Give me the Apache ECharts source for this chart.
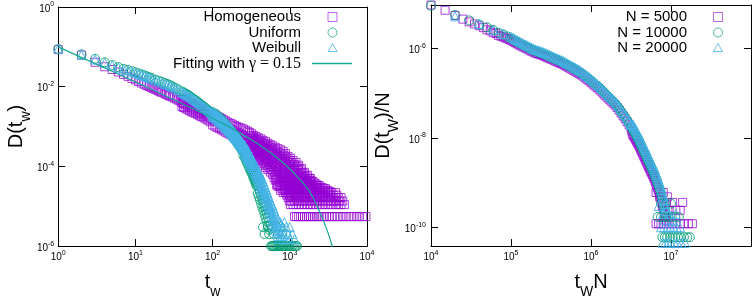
<!DOCTYPE html>
<html><head><meta charset="utf-8">
<script src="https://cdn.jsdelivr.net/npm/echarts@6/dist/echarts.min.js"></script>
<style>html,body{margin:0;padding:0;background:#fff}#c{width:754px;height:304px}</style>
</head><body><div id="c"></div><script>
// ================= LEFT PANEL: t_w vs D(t_w) =================
const homogeneousEarly = [[1,0.085],[2,0.062],[3,0.041],[4,0.0316],[5,0.027],[6,0.0234],[7,0.0204],[8,0.0182],[9,0.0162],[10,0.0148],[11,0.0135],[12,0.0123],[13,0.0115],[14,0.0107],[15,0.0101],[16,0.0095],[17,0.0091],[18,0.0087],[19,0.0083],[20,0.0079],[21,0.0075],[22,0.0072],[24,0.0068],[25,0.0064],[27,0.006],[28,0.0058],[30,0.0055],[32,0.0052],[34,0.0049],[36,0.0046],[38,0.0044]];
// band columns: [t, D values read across the band ...]
const homogeneousBand = [
[40,5.0e-3,4.0e-3,3.2e-3],[42,4.8e-3,3.8e-3,3.0e-3],[44,4.6e-3,3.6e-3,2.9e-3],[47,4.3e-3,3.4e-3,2.7e-3],[50,4.0e-3,3.2e-3,2.5e-3],[53,3.8e-3,3.0e-3,2.4e-3],[56,3.55e-3,2.8e-3,2.24e-3],[60,3.4e-3,2.7e-3,2.14e-3],[64,3.2e-3,2.5e-3,2.0e-3],[68,2.95e-3,2.34e-3,1.86e-3],[72,2.8e-3,2.24e-3,1.78e-3],[77,2.6e-3,2.1e-3,1.66e-3],[82,2.45e-3,1.95e-3,1.55e-3],[87,2.3e-3,1.82e-3,1.45e-3],[93,2.1e-3,1.66e-3,1.32e-3],
[100,2.05e-3,1.51e-3,1.1e-3],[107,1.95e-3,1.41e-3,1.02e-3],[114,1.82e-3,1.32e-3,9.5e-4],[122,1.7e-3,1.23e-3,8.9e-4],[130,1.58e-3,1.15e-3,8.3e-4],[139,1.48e-3,1.07e-3,7.8e-4],[148,1.38e-3,1.0e-3,7.2e-4],[158,1.29e-3,9.3e-4,6.8e-4],[169,1.2e-3,8.7e-4,6.3e-4],[180,1.15e-3,8.3e-4,6.0e-4],[192,1.07e-3,7.8e-4,5.6e-4],[205,1.0e-3,7.2e-4,5.2e-4],[219,9.5e-4,6.8e-4,4.8e-4],[234,9.1e-4,6.3e-4,4.4e-4],[250,8.7e-4,5.9e-4,4.0e-4],[267,8.1e-4,5.4e-4,3.5e-4],[285,7.6e-4,5.0e-4,3.2e-4],
[300,7.1e-4,5.2e-4,4.0e-4,3.0e-4,2.2e-4],[320,6.6e-4,4.9e-4,3.7e-4,2.7e-4,1.9e-4],[340,6.0e-4,4.5e-4,3.4e-4,2.5e-4,1.66e-4],[365,5.6e-4,4.2e-4,3.1e-4,2.2e-4,1.48e-4],[390,5.2e-4,3.9e-4,2.8e-4,2.0e-4,1.35e-4],[420,4.9e-4,3.6e-4,2.6e-4,1.8e-4,1.17e-4],[450,4.5e-4,3.3e-4,2.4e-4,1.6e-4,1.07e-4],[485,4.2e-4,3.0e-4,2.1e-4,1.4e-4,9.3e-5],[520,3.8e-4,2.8e-4,1.9e-4,1.25e-4,8.3e-5],[560,3.5e-4,2.5e-4,1.7e-4,1.1e-4,7.2e-5],[600,3.3e-4,2.3e-4,1.55e-4,1.0e-4,6.3e-5],
[650,3.0e-4,2.1e-4,1.4e-4,9e-5,6e-5,4.5e-5],[700,2.8e-4,1.9e-4,1.25e-4,8e-5,5.3e-5,3.6e-5,3.2e-5],[760,2.6e-4,1.75e-4,1.15e-4,7.2e-5,4.8e-5,3.3e-5,2.5e-5],[820,2.4e-4,1.6e-4,1.05e-4,6.6e-5,4.4e-5,3.3e-5,2.2e-5],[880,2.1e-4,1.45e-4,9.5e-5,6e-5,4e-5,2.75e-5,2.2e-5],[950,1.78e-4,1.25e-4,8.5e-5,5.6e-5,3.8e-5,2.75e-5,2.2e-5,1.65e-5],
[1020,1.6e-4,1.1e-4,7.5e-5,5e-5,3.5e-5,2.75e-5,2.2e-5,1.65e-5,1.1e-5],[1100,1.41e-4,1.0e-4,6.8e-5,4.6e-5,3.3e-5,2.75e-5,2.2e-5,1.65e-5,1.1e-5],[1200,1.26e-4,9e-5,6.2e-5,4.2e-5,3.3e-5,2.75e-5,2.2e-5,1.65e-5,1.1e-5],[1300,1.07e-4,7.8e-5,5.5e-5,3.9e-5,3.3e-5,2.75e-5,2.2e-5,1.65e-5,1.1e-5],[1420,8.9e-5,6.6e-5,5e-5,3.9e-5,3.3e-5,2.75e-5,2.2e-5,1.65e-5,1.1e-5],
[1550,7.1e-5,5.5e-5,4.4e-5,3.3e-5,2.75e-5,2.2e-5,1.65e-5,1.1e-5],[1700,6e-5,4.9e-5,3.9e-5,3.3e-5,2.75e-5,2.2e-5,1.65e-5,1.1e-5],[1850,5e-5,4.4e-5,3.3e-5,2.75e-5,2.2e-5,1.65e-5,1.1e-5],[2000,4.2e-5,3.3e-5,2.75e-5,2.2e-5,1.65e-5,1.1e-5],[2200,3.6e-5,3.3e-5,2.75e-5,2.2e-5,1.65e-5,1.1e-5],[2400,3.3e-5,2.75e-5,2.2e-5,1.65e-5,1.1e-5],[2650,2.9e-5,2.2e-5,1.65e-5,1.1e-5],[2900,2.75e-5,2.2e-5,1.65e-5,1.1e-5],[3200,2.4e-5,2.2e-5,1.65e-5,1.1e-5],[3500,2.2e-5,1.65e-5,1.1e-5],[3900,2.2e-5,1.65e-5,1.1e-5],[4250,1.65e-5,1.1e-5],[4600,1.65e-5,1.1e-5],[5100,1.1e-5]
];
// in-between columns of the dense cloud
const homogeneousCloud = [
[310,5.9e-4,4.4e-4,3.3e-4,2.4e-4],[330,5.45e-4,4.1e-4,3.05e-4,2.15e-4],[352,5.0e-4,3.75e-4,2.75e-4,1.92e-4],[377,4.7e-4,3.45e-4,2.5e-4,1.72e-4],[405,4.35e-4,3.2e-4,2.25e-4,1.55e-4],[435,4.0e-4,2.95e-4,2.05e-4,1.38e-4],[467,3.7e-4,2.65e-4,1.85e-4,1.22e-4],[502,3.4e-4,2.4e-4,1.62e-4,1.08e-4],[540,3.1e-4,2.2e-4,1.45e-4,9.5e-5],[580,2.85e-4,1.97e-4,1.3e-4,8.4e-5],
[625,2.63e-4,1.8e-4,1.18e-4,7.6e-5,5.2e-5],[675,2.4e-4,1.62e-4,1.06e-4,6.9e-5,4.7e-5,3.4e-5],[730,2.2e-4,1.48e-4,9.5e-5,6.2e-5,4.1e-5,3.1e-5],[790,2.05e-4,1.36e-4,8.7e-5,5.6e-5,3.9e-5,2.75e-5],[850,1.85e-4,1.23e-4,7.9e-5,5.1e-5,3.5e-5,2.5e-5],[915,1.62e-4,1.1e-4,7.2e-5,4.8e-5,3.3e-5,2.5e-5,1.9e-5],
[985,1.4e-4,9.7e-5,6.5e-5,4.4e-5,3.1e-5,2.5e-5,1.9e-5,1.35e-5],[1060,1.25e-4,8.6e-5,5.8e-5,4.0e-5,3.05e-5,2.45e-5,1.9e-5,1.35e-5],[1150,1.12e-4,7.9e-5,5.3e-5,3.8e-5,3.0e-5,2.45e-5,1.9e-5,1.35e-5],[1250,9.9e-5,7.0e-5,4.8e-5,3.6e-5,3.0e-5,2.45e-5,1.9e-5,1.35e-5],[1360,8.4e-5,6.1e-5,4.5e-5,3.6e-5,3.0e-5,2.45e-5,1.9e-5,1.35e-5],
[1480,6.9e-5,5.3e-5,4.1e-5,3.3e-5,2.45e-5,1.9e-5,1.35e-5],[1620,5.8e-5,4.6e-5,3.7e-5,3.0e-5,2.45e-5,1.9e-5,1.35e-5],[1780,5.0e-5,4.1e-5,3.4e-5,2.45e-5,1.9e-5,1.35e-5],[1920,4.2e-5,3.5e-5,3.0e-5,2.45e-5,1.9e-5,1.35e-5],[2100,3.8e-5,3.0e-5,2.45e-5,1.9e-5,1.35e-5],[2300,3.3e-5,2.9e-5,2.45e-5,1.9e-5,1.35e-5],[2520,3.0e-5,2.45e-5,1.9e-5,1.35e-5],[2770,2.8e-5,2.45e-5,1.9e-5,1.35e-5],[3050,2.5e-5,1.9e-5,1.35e-5],[3350,2.3e-5,1.9e-5,1.35e-5],[3700,1.9e-5,1.35e-5],[4050,1.9e-5,1.35e-5],[4420,1.35e-5],[4850,1.35e-5]
];
const homogeneousFloor = [[1150,5.5e-6],[1220,5.5e-6],[1300,5.5e-6],[1380,5.5e-6],[1460,5.5e-6],[1550,5.5e-6],[1650,5.5e-6],[1750,5.5e-6],[1860,5.5e-6],[1980,5.5e-6],[2100,5.5e-6],[2250,5.5e-6],[2400,5.5e-6],[2600,5.5e-6],[2800,5.5e-6],[3000,5.5e-6],[3250,5.5e-6],[3500,5.5e-6],[3800,5.5e-6],[4100,5.5e-6],[4500,5.5e-6],[4900,5.5e-6],[5400,5.5e-6],[6000,5.5e-6],[6600,5.5e-6],[7300,5.5e-6],[8000,5.5e-6],[8800,5.5e-6],[9700,5.5e-6]];

const uniformEarly = [[1,0.088],[2,0.065],[3,0.05],[4,0.041],[5,0.035],[6,0.031],[7,0.028],[8,0.0263],[9,0.0245],[10,0.0229],[11,0.0216],[12,0.0204],[13,0.0193],[14,0.0182],[15,0.0174],[16,0.0166],[18,0.0151],[20,0.0141],[22,0.0132],[24,0.0123],[26,0.0117],[28,0.011],[30,0.0102],[33,0.0093],[36,0.0085],[40,0.0076],[42,0.0072],[44,0.0068],[46,0.0065],[48,0.0062],[50,0.0059],[53,0.0054],[55,0.0051],[58,0.0048],[61,0.0045],[64,0.0042],[67,0.0039],[70,0.0036],[73,0.0034],[77,0.0032],[81,0.0029],[85,0.0027],[89,0.0025],[93,0.00234],[96,0.0022]];
const uniformBand = [
[100,2.3e-3,2.04e-3,1.8e-3],[110,2.1e-3,1.86e-3,1.66e-3],[120,1.78e-3,1.58e-3,1.41e-3],[130,1.55e-3,1.38e-3,1.23e-3],[140,1.32e-3,1.17e-3,1.05e-3],[150,1.12e-3,1.0e-3,8.9e-4],[160,9.8e-4,8.7e-4,7.8e-4],[170,8.3e-4,7.4e-4,6.6e-4],[180,7.2e-4,6.5e-4,5.8e-4],[190,6.3e-4,5.6e-4,5.0e-4],[200,5.5e-4,4.9e-4,4.4e-4],[210,4.8e-4,4.3e-4,3.8e-4],[220,4.2e-4,3.7e-4,3.3e-4],[230,3.6e-4,3.2e-4,2.9e-4],[240,3.2e-4,2.8e-4,2.5e-4],
[250,3.0e-4,2.4e-4,1.9e-4],[260,2.6e-4,2.1e-4,1.66e-4],[270,2.24e-4,1.78e-4,1.41e-4],[280,1.9e-4,1.51e-4,1.2e-4],[290,1.66e-4,1.32e-4,1.05e-4],[300,1.41e-4,1.12e-4,8.9e-5],[310,1.23e-4,9.8e-5,7.8e-5],[320,1.07e-4,8.5e-5,6.8e-5],[330,9.3e-5,7.4e-5,5.9e-5],[340,7.9e-5,6.3e-5,5.0e-5],[350,6.9e-5,5.5e-5,4.4e-5],[360,5.9e-5,4.7e-5,3.7e-5],[372,5.0e-5,4.0e-5,3.2e-5],
[385,5.2e-5,3.3e-5,2.1e-5],[397,4.4e-5,2.75e-5,1.74e-5],[410,3.6e-5,2.3e-5,1.45e-5],[425,2.95e-5,1.86e-5,1.17e-5],[440,2.4e-5,1.51e-5,9.5e-6],[455,1.95e-5,1.23e-5,7.8e-6],[470,1.58e-5,1.0e-5,6.3e-6],[485,1.29e-5,8.1e-6,5.1e-6],[500,1.05e-5,6.6e-6,4.2e-6],[520,8.3e-6,5.2e-6,3.3e-6],[540,6.6e-6,4.2e-6,2.6e-6],[560,3.5e-6],[580,2.8e-6]
];
const uniformFloor = [[450,3e-6],[520,3e-6],[600,3e-6],[680,3e-6],[760,3e-6],[470,2e-6],[540,2e-6],[620,2e-6],[700,2e-6],[800,2e-6],[900,2e-6],
[570,1e-6],[590,1e-6],[610,1e-6],[630,1e-6],[650,1e-6],[675,1e-6],[700,1e-6],[725,1e-6],[750,1e-6],[780,1e-6],[810,1e-6],[840,1e-6],[870,1e-6],[900,1e-6],[940,1e-6],[980,1e-6],[1020,1e-6],[1060,1e-6],[1100,1e-6],[1150,1e-6],[1200,1e-6],[1240,1e-6]];

const weibullEarly = [[1,0.09],[2,0.063],[3,0.048],[4,0.04],[5,0.034],[6,0.03],[7,0.027],[8,0.0255],[9,0.0237],[10,0.0222],[11,0.021],[12,0.0197],[13,0.0187],[14,0.0176],[15,0.0168],[16,0.016],[18,0.0146],[20,0.0136],[22,0.0127],[24,0.0119],[26,0.0113],[28,0.0106],[30,0.0099],[33,0.009],[36,0.0082],[40,0.0074],[42,0.007],[44,0.0066],[46,0.0063],[48,0.006],[50,0.0057],[53,0.0053],[55,0.005],[58,0.0047],[61,0.0044],[64,0.0041],[67,0.0038],[70,0.0036],[73,0.0034],[77,0.0031],[81,0.0029],[85,0.0027],[89,0.0025],[93,0.00232],[96,0.0022]];
const weibullBand = [
[100,2.35e-3,2.04e-3,1.78e-3],[105,2.24e-3,1.95e-3,1.7e-3],[110,2.09e-3,1.82e-3,1.58e-3],[115,1.95e-3,1.7e-3,1.48e-3],[120,1.82e-3,1.58e-3,1.38e-3],[125,1.7e-3,1.48e-3,1.29e-3],[130,1.58e-3,1.38e-3,1.2e-3],[135,1.48e-3,1.29e-3,1.12e-3],[140,1.38e-3,1.2e-3,1.05e-3],[145,1.29e-3,1.12e-3,9.8e-4],[150,1.2e-3,1.05e-3,9.1e-4],[155,1.15e-3,1.0e-3,8.7e-4],[160,1.07e-3,9.3e-4,8.1e-4],[165,1.0e-3,8.7e-4,7.6e-4],[170,9.3e-4,8.1e-4,7.1e-4],[175,8.9e-4,7.8e-4,6.8e-4],[180,8.3e-4,7.2e-4,6.3e-4],[185,7.8e-4,6.8e-4,5.9e-4],[190,7.2e-4,6.3e-4,5.5e-4],[195,6.9e-4,6.0e-4,5.2e-4],[200,6.5e-4,5.6e-4,4.9e-4],[207,5.9e-4,5.1e-4,4.5e-4],[215,5.4e-4,4.7e-4,4.1e-4],[222,4.9e-4,4.3e-4,3.7e-4],[230,4.5e-4,3.9e-4,3.4e-4],[237,4.1e-4,3.5e-4,3.1e-4],[245,3.7e-4,3.2e-4,2.8e-4],[252,3.4e-4,2.95e-4,2.6e-4],
[260,3.4e-4,2.7e-4,2.1e-4],[267,3.1e-4,2.45e-4,1.95e-4],[275,2.8e-4,2.24e-4,1.78e-4],[282,2.6e-4,2.04e-4,1.62e-4],[290,2.34e-4,1.86e-4,1.48e-4],[297,2.14e-4,1.7e-4,1.35e-4],[305,1.95e-4,1.55e-4,1.23e-4],[312,1.78e-4,1.41e-4,1.12e-4],[320,1.62e-4,1.29e-4,1.02e-4],[330,1.45e-4,1.15e-4,9.1e-5],[340,1.29e-4,1.02e-4,8.1e-5],[350,1.15e-4,9.1e-5,7.2e-5],[360,1.02e-4,8.1e-5,6.5e-5],[370,9.1e-5,7.2e-5,5.8e-5],[380,8.1e-5,6.5e-5,5.1e-5],[390,7.2e-5,5.8e-5,4.6e-5],
[400,7.2e-5,5.1e-5,3.6e-5],[412,6.3e-5,4.5e-5,3.2e-5],[425,5.5e-5,3.9e-5,2.75e-5],[437,4.8e-5,3.4e-5,2.4e-5],[450,4.2e-5,3.0e-5,2.1e-5],[465,3.5e-5,2.5e-5,1.78e-5],[480,3.0e-5,2.1e-5,1.5e-5],[495,2.6e-5,1.8e-5,1.3e-5],[510,2.2e-5,1.55e-5,1.1e-5],[525,1.85e-5,1.3e-5,9.3e-6],[540,1.6e-5,1.12e-5,8e-6],[557,1.35e-5,9.5e-6,6.7e-6],[575,1.12e-5,7.9e-6,5.6e-6],
[592,1.07e-5,6.8e-6,4.3e-6],[610,8.9e-6,5.6e-6,3.5e-6],[630,7.6e-6,4.8e-6,3e-6],[650,6.3e-6,4.0e-6,2.5e-6],[675,5.4e-6,3.4e-6,2.1e-6],[700,4.5e-6,2.8e-6,1.8e-6],[730,3.8e-6,2.4e-6,1.5e-6],[760,2e-6],[800,1.8e-6],[830,1.5e-6]
];
const weibullFloor = [[750,4e-6],[850,4e-6],[800,3e-6],[900,3e-6],[1000,3e-6],[820,2e-6],[950,2e-6],[1080,2e-6],[900,1.5e-6],[1000,1.5e-6],[1150,1.5e-6]];

const fitT = [1,3,10,30,55,100,135,200,320,410,600,870,1200,1660,2000,2450,3000,3550,3750];
const fitD = [0.1,0.038,0.0132,0.0049,0.00282,0.00162,0.0012,0.00079,0.00046,0.00034,0.0002,0.000112,0.00006,0.0000295,0.0000166,0.0000071,0.0000027,0.000001,0.0000007];

// ================= RIGHT PANEL: t_w N vs D(t_w)/N =================
const n5000Early = [[1e4,9.3e-6],[1.5e4,7.1e-6],[2e4,5.4e-6],[2.5e4,4.5e-6],[3e4,3.9e-6],[3.5e4,3.5e-6],[4e4,3.2e-6],[4.5e4,2.9e-6],[5e4,2.6e-6],[5.5e4,2.45e-6],[6e4,2.24e-6],[6.5e4,2.14e-6],[7e4,1.95e-6],[7.5e4,1.86e-6],[8e4,1.8e-6],[8.5e4,1.72e-6],[9e4,1.65e-6],[9.5e4,1.58e-6]];
const n10000Early = [[1e4,9e-6],[2e4,5.6e-6],[3e4,4.2e-6],[4e4,3.4e-6],[5e4,2.95e-6],[6e4,2.57e-6],[7e4,2.24e-6],[8e4,2.04e-6],[9e4,1.85e-6]];
const n20000Early = [[2e4,5.2e-6],[4e4,3.5e-6],[6e4,2.6e-6],[8e4,2.1e-6]];
const bandX = [1e5,1.12e5,1.26e5,1.41e5,1.58e5,1.78e5,2e5,2.24e5,2.51e5,2.82e5,3.16e5,3.55e5,3.98e5,4.47e5,5.01e5,5.62e5,6.31e5,7.08e5,7.94e5,8.91e5,1e6,1.12e6,1.26e6,1.41e6,1.58e6,1.78e6,2e6,2.24e6,2.51e6,2.82e6,3.16e6,3.31e6,3.47e6,3.63e6,3.8e6,3.98e6,4.17e6,4.37e6,4.57e6,4.79e6,5.01e6,5.25e6,5.5e6,5.75e6,6.03e6,6.31e6,6.61e6,6.92e6,7.24e6,7.59e6,7.94e6,8.32e6,8.71e6];
const band5000 = [1.51e-6,1.35e-6,1.2e-6,1.08e-6,9.8e-7,8.7e-7,7.9e-7,7.4e-7,6.9e-7,6.3e-7,5.75e-7,5.25e-7,4.8e-7,4.4e-7,3.9e-7,3.47e-7,3.09e-7,2.75e-7,2.4e-7,2.04e-7,1.74e-7,1.45e-7,1.23e-7,1.0e-7,8.1e-8,6.6e-8,5.4e-8,4.17e-8,3.09e-8,2.29e-8,1.66e-8,1.2e-8,1.05e-8,9.1e-9,7.8e-9,6.8e-9,5.6e-9,4.7e-9,3.9e-9,3.3e-9,2.75e-9,2.29e-9,1.91e-9,1.62e-9,1.35e-9,1.1e-9,8.7e-10,6.9e-10,5.5e-10,4.07e-10,2.88e-10,2.0e-10,1.38e-10];
const band10000 = [1.66e-6,1.48e-6,1.32e-6,1.19e-6,1.07e-6,9.5e-7,8.7e-7,8.1e-7,7.6e-7,6.9e-7,6.3e-7,5.75e-7,5.25e-7,4.8e-7,4.27e-7,3.8e-7,3.39e-7,3.02e-7,2.63e-7,2.24e-7,1.91e-7,1.58e-7,1.35e-7,1.1e-7,8.9e-8,7.2e-8,5.9e-8,4.57e-8,3.39e-8,2.51e-8,1.82e-8,1.55e-8,1.35e-8,1.17e-8,1.0e-8,8.7e-9,7.2e-9,6.0e-9,5.0e-9,4.27e-9,3.55e-9,2.95e-9,2.45e-9,2.09e-9,1.74e-9,1.41e-9,1.12e-9,8.9e-10,7.1e-10,5.25e-10,3.72e-10,2.57e-10,1.78e-10];
const band20000 = [1.82e-6,1.62e-6,1.45e-6,1.3e-6,1.17e-6,1.05e-6,9.5e-7,8.9e-7,8.3e-7,7.6e-7,6.9e-7,6.3e-7,5.75e-7,5.25e-7,4.68e-7,4.17e-7,3.72e-7,3.31e-7,2.88e-7,2.45e-7,2.09e-7,1.74e-7,1.48e-7,1.2e-7,9.8e-8,7.9e-8,6.5e-8,5.0e-8,3.72e-8,2.75e-8,2.0e-8,2.0e-8,1.74e-8,1.51e-8,1.29e-8,1.12e-8,9.3e-9,7.8e-9,6.5e-9,5.5e-9,4.57e-9,3.8e-9,3.16e-9,2.69e-9,2.24e-9,1.82e-9,1.45e-9,1.15e-9,9.1e-10,6.8e-10,4.8e-10,3.3e-10,2.29e-10];
// second, staggered set of x positions along the same dense band
const bandXb = [1.06e5,1.19e5,1.33e5,1.5e5,1.68e5,1.89e5,2.12e5,2.37e5,2.66e5,2.99e5,3.35e5,3.76e5,4.22e5,4.73e5,5.31e5,5.96e5,6.68e5,7.5e5,8.41e5,9.44e5,1.06e6,1.19e6,1.33e6,1.49e6,1.68e6,1.89e6,2.12e6,2.37e6,2.66e6,2.99e6,3.23e6,3.39e6,3.55e6,3.72e6,3.89e6,4.07e6,4.27e6,4.47e6,4.68e6,4.9e6,5.13e6,5.37e6,5.62e6,5.89e6,6.17e6,6.46e6,6.76e6,7.08e6,7.41e6,7.76e6,8.13e6,8.51e6];
const band5000b = [1.43e-6,1.27e-6,1.14e-6,1.03e-6,9.2e-7,8.3e-7,7.65e-7,7.15e-7,6.6e-7,6.0e-7,5.5e-7,5.0e-7,4.6e-7,4.15e-7,3.68e-7,3.27e-7,2.92e-7,2.57e-7,2.21e-7,1.88e-7,1.59e-7,1.34e-7,1.11e-7,9.0e-8,7.3e-8,6.0e-8,4.75e-8,3.59e-8,2.66e-8,1.95e-8,1.41e-8,1.12e-8,9.8e-9,8.4e-9,7.3e-9,6.2e-9,5.1e-9,4.3e-9,3.6e-9,3.0e-9,2.5e-9,2.09e-9,1.76e-9,1.48e-9,1.22e-9,9.8e-10,7.7e-10,6.2e-10,4.7e-10,3.4e-10,2.4e-10,1.66e-10];
const band10000b = [1.57e-6,1.4e-6,1.25e-6,1.13e-6,1.01e-6,9.1e-7,8.4e-7,7.85e-7,7.25e-7,6.6e-7,6.0e-7,5.5e-7,5.0e-7,4.53e-7,4.03e-7,3.59e-7,3.2e-7,2.82e-7,2.43e-7,2.07e-7,1.74e-7,1.46e-7,1.22e-7,9.9e-8,8.0e-8,6.5e-8,5.2e-8,3.94e-8,2.92e-8,2.14e-8,1.68e-8,1.45e-8,1.26e-8,1.08e-8,9.3e-9,7.9e-9,6.6e-9,5.5e-9,4.6e-9,3.9e-9,3.24e-9,2.69e-9,2.26e-9,1.91e-9,1.57e-9,1.26e-9,1.0e-9,7.9e-10,6.1e-10,4.4e-10,3.1e-10,2.14e-10];
const band20000b = [1.72e-6,1.53e-6,1.37e-6,1.23e-6,1.11e-6,1.0e-6,9.2e-7,8.6e-7,7.95e-7,7.25e-7,6.6e-7,6.0e-7,5.5e-7,4.95e-7,4.42e-7,3.94e-7,3.51e-7,3.09e-7,2.66e-7,2.26e-7,1.91e-7,1.6e-7,1.33e-7,1.08e-7,8.8e-8,7.2e-8,5.7e-8,4.31e-8,3.2e-8,2.35e-8,2.0e-8,1.87e-8,1.62e-8,1.4e-8,1.2e-8,1.02e-8,8.5e-9,7.1e-9,6.0e-9,5.0e-9,4.17e-9,3.47e-9,2.92e-9,2.46e-9,2.02e-9,1.62e-9,1.29e-9,1.02e-9,7.9e-10,5.7e-10,4.0e-10,2.75e-10];
const n5000Tail = [[6.5e6,6e-10],[7.2e6,4.8e-10],[8e6,6e-10],[8.8e6,3.6e-10],[9.5e6,2.4e-10],[1.05e7,3.6e-10],[1.15e7,2.4e-10],[1.3e7,2.4e-10],[1.4e7,3.6e-10],[7.8e6,3e-10],[9e6,4.8e-10],
[6.5e6,1.2e-10],[7e6,1.2e-10],[7.5e6,1.2e-10],[8e6,1.2e-10],[8.7e6,1.2e-10],[9.5e6,1.2e-10],[1.05e7,1.2e-10],[1.15e7,1.2e-10],[1.3e7,1.2e-10],[1.45e7,1.2e-10],[1.65e7,1.2e-10],[1.85e7,1.2e-10]];
const n10000Tail = [[7.5e6,3.4e-10],[8.5e6,3.4e-10],[1e7,3.4e-10],
[6.8e6,1.7e-10],[7.5e6,1.7e-10],[8.3e6,1.7e-10],[9.2e6,1.7e-10],[1.02e7,1.7e-10],[1.13e7,1.7e-10],[1.25e7,1.7e-10],
[7.8e6,6e-11],[8.4e6,6e-11],[9e6,6e-11],[9.7e6,6e-11],[1.05e7,6e-11],[1.13e7,6e-11],[1.22e7,6e-11],[1.32e7,6e-11],[1.45e7,6e-11],[1.6e7,6e-11],[1.72e7,6e-11]];
const n20000Tail = [[7e6,3e-10],[8e6,2e-10],[9.5e6,2e-10],[1.05e7,1.4e-10],[1.15e7,2e-10],
[7.5e6,1e-10],[8.2e6,1e-10],[9e6,1e-10],[9.8e6,1e-10],[1.08e7,1e-10],[1.18e7,1e-10],[1.3e7,1e-10],
[7.8e6,4.5e-11],[8.5e6,4.5e-11],[9.2e6,4.5e-11],[1e7,4.5e-11],[1.1e7,4.5e-11],[1.2e7,4.5e-11],[1.35e7,4.5e-11],[1.5e7,4.5e-11]];

const leftLegend = ['Homogeneous','Uniform','Weibull','Fitting with '];
const rightLegend = ['N = 5000','N = 10000','N = 20000'];

// ---------- build point lists ----------
function fromColumns(cols){ const out=[]; cols.forEach(r=>{ for(let i=1;i<r.length;i++) out.push([r[0], r[i]]); }); return out; }
function fromParallel(xs, ys){ return xs.map((x,i)=>[x, ys[i]]); }
const homogeneousPts = homogeneousEarly.concat(fromColumns(homogeneousBand), fromColumns(homogeneousCloud), homogeneousFloor);
const uniformPts = uniformEarly.concat(fromColumns(uniformBand), uniformFloor);
const weibullPts = weibullEarly.concat(fromColumns(weibullBand), weibullFloor);
const n5000Pts = n5000Early.concat(fromParallel(bandX, band5000), fromParallel(bandXb, band5000b), n5000Tail);
const n10000Pts = n10000Early.concat(fromParallel(bandX, band10000), fromParallel(bandXb, band10000b), n10000Tail);
const n20000Pts = n20000Early.concat(fromParallel(bandX, band20000), fromParallel(bandXb, band20000b), n20000Tail);

// ---------- styling ----------
const FONT = '"Liberation Sans", Arial, sans-serif';
const SERIF = '"Liberation Serif", "Times New Roman", serif';
const C_MAG = '#9400d3', C_GRN = '#009e73', C_CYN = '#45b2e8', C_FIT = '#17a897';

function powLabel(v){
  if(!(v>0)) return '';
  const e=Math.log10(v), r=Math.round(e);
  if(Math.abs(e-r)>1e-6) return '';
  return '{b|10}{s|'+r+'}';
}
const labelRich = {
  b:{fontSize:10, lineHeight:12, padding:[4,0,0,0], fontFamily:FONT, color:'#000'},
  s:{fontSize:7, lineHeight:10, verticalAlign:'top', fontFamily:FONT, color:'#000'}
};
const nameRich = {
  a:{fontSize:20, lineHeight:22, verticalAlign:'top', fontFamily:FONT, color:'#000'},
  b:{fontSize:14, lineHeight:12, padding:[18,0,0,0], fontFamily:FONT, color:'#000'}
};
function ax(gi,pos,min,max,base){
  return {gridIndex:gi, position:pos, type:'log', logBase:base, min:min, max:max,
    axisLine:{show:true, onZero:false, lineStyle:{color:'#000', width:1}},
    axisTick:{show:true, inside:true, length:7, lineStyle:{color:'#000', width:1}},
    minorTick:{show:false}, splitLine:{show:false}, minorSplitLine:{show:false},
    axisLabel:{show:false}};
}
const xL = ax(0,'bottom',1,1e4,10);
xL.axisLabel = {show:true, formatter:powLabel, rich:labelRich, margin:3};
xL.name='{a|t}{b|w}'; xL.nameLocation='middle'; xL.nameGap=8; xL.nameTextStyle={rich:nameRich};
const xR = ax(1,'bottom',1e4,1e8,10);
xR.axisLabel = {show:true, formatter:v=>(Math.round(Math.log10(v))>=8?'':powLabel(v)), rich:labelRich, margin:3};
xR.name='{a|t}{b|W}{a|N}'; xR.nameLocation='middle'; xR.nameGap=8; xR.nameTextStyle={rich:nameRich};
const yL = ax(0,'left',1e-6,1,100);
yL.axisLabel = {show:true, formatter:powLabel, rich:labelRich, margin:4};
yL.name='{a|D(t}{b|w}{a|)}'; yL.nameLocation='middle'; yL.nameRotate=90; yL.nameGap=22; yL.nameTextStyle={rich:nameRich};
const yR = ax(1,'left',3.8e-11,9.3e-6,100);
yR.axisLabel = {show:true, formatter:powLabel, rich:labelRich, margin:5};
yR.name='{a|D(t}{b|W}{a|)/N}'; yR.nameLocation='middle'; yR.nameRotate=90; yR.nameGap=33; yR.nameTextStyle={rich:nameRich};

function sc(name,data,xi,yi,symbol,size,color,op){
  return {name, type:'scatter', xAxisIndex:xi, yAxisIndex:yi, data, symbol, symbolSize:size,
    itemStyle:{color:'rgba(0,0,0,0)', borderColor:color, borderWidth:1, opacity:op}, silent:true};
}

const option = {
  animation:false,
  backgroundColor:'#fff',
  textStyle:{fontFamily:FONT},
  grid:[{left:39, top:5, width:328, height:267},{left:431, top:5, width:322, height:267}],
  xAxis:[xL, ax(0,'top',1,1e4,10), xR, ax(1,'top',1e4,1e8,10)],
  yAxis:[yL, ax(0,'right',1e-6,1,100), yR, ax(1,'right',3.8e-11,9.3e-6,100)],
  series:[
    sc(leftLegend[0], homogeneousPts, 0,0,'rect',8,C_MAG,0.75),
    sc(leftLegend[1], uniformPts, 0,0,'circle',9,C_GRN,0.85),
    sc(leftLegend[2], weibullPts, 0,0,'triangle',9,C_CYN,0.9),
    {name:'fit', type:'line', xAxisIndex:0, yAxisIndex:0, data:fitT.map((t,i)=>[t,fitD[i]]),
      showSymbol:false, smooth:0.3, lineStyle:{color:C_FIT, width:1.2}, silent:true},
    sc(rightLegend[0], n5000Pts, 2,2,'rect',8,C_MAG,0.75),
    sc(rightLegend[1], n10000Pts, 2,2,'circle',9,C_GRN,0.85),
    sc(rightLegend[2], n20000Pts, 2,2,'triangle',9,C_CYN,0.9)
  ],
  graphic:[
    {type:'text', x:301, y:17, style:{text:leftLegend[0], align:'right', verticalAlign:'middle', fontSize:15, fontFamily:FONT, fill:'#000'}},
    {type:'text', x:301, y:32.5, style:{text:leftLegend[1], align:'right', verticalAlign:'middle', fontSize:15, fontFamily:FONT, fill:'#000'}},
    {type:'text', x:301, y:48, style:{text:leftLegend[2], align:'right', verticalAlign:'middle', fontSize:15, fontFamily:FONT, fill:'#000'}},
    {type:'text', x:301, y:63.5, style:{text:leftLegend[3]+'{g|γ = 0.15}', align:'right', verticalAlign:'middle', fontSize:15, fontFamily:FONT, fill:'#000',
      rich:{g:{fontSize:16, fontFamily:SERIF, fill:'#000'}}}},
    {type:'rect', shape:{x:328,y:12.5,width:9,height:9}, style:{fill:'none', stroke:C_MAG, lineWidth:1, opacity:0.6}},
    {type:'circle', shape:{cx:332.5,cy:32.5,r:4.5}, style:{fill:'none', stroke:C_GRN, lineWidth:1, opacity:0.7}},
    {type:'polygon', shape:{points:[[332.5,43.5],[337,51.5],[328,51.5]]}, style:{fill:'none', stroke:C_CYN, lineWidth:1, opacity:0.8}},
    {type:'line', shape:{x1:312,y1:63.5,x2:352,y2:63.5}, style:{stroke:C_FIT, lineWidth:1.5}},
    {type:'text', x:687, y:17, style:{text:rightLegend[0], align:'right', verticalAlign:'middle', fontSize:15, fontFamily:FONT, fill:'#000'}},
    {type:'text', x:687, y:32.5, style:{text:rightLegend[1], align:'right', verticalAlign:'middle', fontSize:15, fontFamily:FONT, fill:'#000'}},
    {type:'text', x:687, y:48, style:{text:rightLegend[2], align:'right', verticalAlign:'middle', fontSize:15, fontFamily:FONT, fill:'#000'}},
    {type:'rect', shape:{x:713.5,y:12.5,width:9,height:9}, style:{fill:'none', stroke:C_MAG, lineWidth:1, opacity:0.6}},
    {type:'circle', shape:{cx:718,cy:32.5,r:4.5}, style:{fill:'none', stroke:C_GRN, lineWidth:1, opacity:0.7}},
    {type:'polygon', shape:{points:[[718,43.5],[722.5,51.5],[713.5,51.5]]}, style:{fill:'none', stroke:C_CYN, lineWidth:1, opacity:0.8}}
  ]
};
const chart = echarts.init(document.getElementById('c'), null, {renderer:'canvas'});
chart.setOption(option);
</script></body></html>
